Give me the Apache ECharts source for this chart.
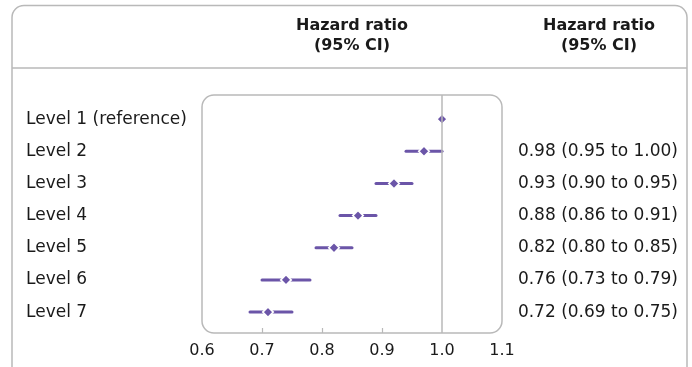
<!DOCTYPE html>
<html>
<head>
<meta charset="utf-8">
<script src="https://cdn.jsdelivr.net/npm/echarts@6/dist/echarts.min.js"></script>
<style>
  html, body { margin: 0; padding: 0; background: #fff; }
  #chart { width: 692px; height: 367px; }
</style>
</head>
<body>
<div id="chart"></div>
<script>
// rows, top to bottom
const levels = ['Level 1 (reference)', 'Level 2', 'Level 3', 'Level 4', 'Level 5', 'Level 6', 'Level 7']
const rowIndex = [1, 2, 3, 4, 5, 6, 7]
// plotted estimates
const hr = [1.0, 0.97, 0.92, 0.86, 0.82, 0.74, 0.71]
const lower = [1.0, 0.94, 0.89, 0.83, 0.79, 0.70, 0.68]
const upper = [1.0, 1.0, 0.95, 0.89, 0.85, 0.78, 0.75]
// printed column on the right
const ciText = ['', '0.98 (0.95 to 1.00)', '0.93 (0.90 to 0.95)', '0.88 (0.86 to 0.91)',
  '0.82 (0.80 to 0.85)', '0.76 (0.73 to 0.79)', '0.72 (0.69 to 0.75)']
const xTicks = [0.7, 0.8, 0.9]
const refValue = 1.0

const purple = '#6b55a8'
const frame = '#b9b9b9'
const ink = '#1a1a1a'
const font = 'DejaVu Sans'

// plot box
const box = { left: 202, top: 95, width: 300, height: 238 }

const chart = echarts.init(document.getElementById('chart'), null, { renderer: 'canvas' })

const ciData = rowIndex.map((r, i) => [lower[i], upper[i], r])
const pointData = rowIndex.map((r, i) => [hr[i], r])

const yBase = {
  type: 'value',
  inverse: true,
  min: 0.25,
  max: 7.65,
  axisLine: { show: false },
  axisTick: { show: false },
  splitLine: { show: false }
}

const headerStyle = {
  text: 'Hazard ratio\n(95% CI)',
  font: 'bold 16px "DejaVu Sans"',
  fill: ink,
  align: 'center',
  lineHeight: 20
}

const option = {
  animation: false,
  textStyle: { fontFamily: font },
  grid: {
    left: box.left,
    top: box.top,
    width: box.width,
    height: box.height
  },
  xAxis: {
    type: 'value',
    min: 0.6,
    max: 1.1,
    interval: 0.1,
    axisLine: { show: false },
    splitLine: { show: false },
    axisTick: {
      show: true,
      inside: true,
      length: 5,
      customValues: xTicks,
      lineStyle: { color: frame, width: 1.2 }
    },
    axisLabel: {
      fontSize: 16,
      color: ink,
      margin: 10,
      formatter: v => v.toFixed(1)
    }
  },
  yAxis: [
    Object.assign({}, yBase, {
      position: 'left',
      axisLabel: {
        customValues: rowIndex,
        align: 'left',
        margin: 176,
        fontSize: 17,
        color: ink,
        formatter: v => levels[Math.round(v) - 1] || ''
      }
    }),
    Object.assign({}, yBase, {
      position: 'right',
      axisLabel: {
        customValues: rowIndex,
        align: 'right',
        margin: 176,
        fontSize: 17,
        color: ink,
        formatter: v => ciText[Math.round(v) - 1] || ''
      }
    })
  ],
  graphic: [
    // outer frame (bottom runs off the picture)
    {
      type: 'rect',
      z: -10,
      shape: { x: 12, y: 5.5, width: 675, height: 420, r: 12 },
      style: { fill: 'none', stroke: frame, lineWidth: 1.5 }
    },
    {
      type: 'line',
      z: -10,
      shape: { x1: 12, y1: 68, x2: 687, y2: 68 },
      style: { stroke: frame, lineWidth: 1.5 }
    },
    // plot box
    {
      type: 'rect',
      z: -10,
      shape: { x: box.left, y: box.top, width: box.width, height: box.height, r: 12 },
      style: { fill: 'none', stroke: frame, lineWidth: 1.5 }
    },
    { type: 'text', x: box.left + box.width / 2, y: 16, style: headerStyle },
    { type: 'text', x: 599, y: 16, style: headerStyle }
  ],
  series: [
    {
      type: 'custom',
      name: 'CI',
      data: ciData,
      encode: { x: [0, 1], y: 2 },
      renderItem: (params, api) => {
        const a = api.coord([api.value(0), api.value(2)])
        const b = api.coord([api.value(1), api.value(2)])
        return {
          type: 'line',
          shape: { x1: a[0], y1: a[1], x2: b[0], y2: b[1] },
          style: { stroke: purple, lineWidth: 3, lineCap: 'round' }
        }
      },
      markLine: {
        silent: true,
        symbol: 'none',
        label: { show: false },
        lineStyle: { color: frame, width: 1.5, type: 'solid' },
        data: [{ xAxis: refValue }]
      },
      z: 2
    },
    {
      type: 'scatter',
      name: 'HR',
      data: pointData,
      symbol: 'diamond',
      symbolSize: 10.5,
      itemStyle: { color: purple, borderColor: '#fff', borderWidth: 1.6, opacity: 1 },
      z: 3
    }
  ]
}

chart.setOption(option)
</script>
</body>
</html>
